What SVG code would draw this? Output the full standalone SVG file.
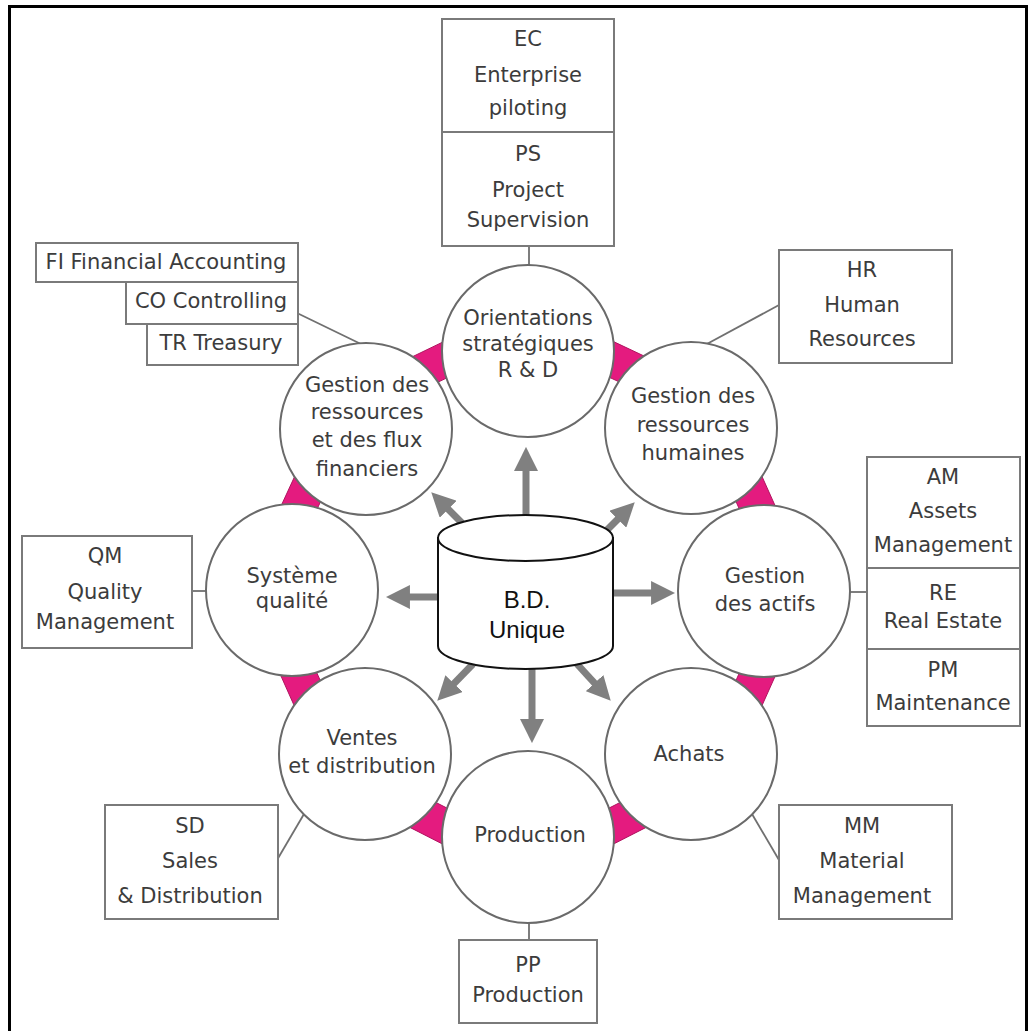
<svg xmlns="http://www.w3.org/2000/svg" width="1035" height="1031" viewBox="0 0 1035 1031">
  <style>
    .frame { fill: none; stroke: #000; stroke-width: 3; }
    .box { fill: #fff; stroke: #7a7a7a; stroke-width: 2; }
    .bub { fill: #fff; stroke: #6a6a6a; stroke-width: 2; }
    .lbl { font-family: "DejaVu Sans", "Liberation Sans", sans-serif; font-size: 21px; fill: #3c3c3c; text-anchor: middle; }
    .db { font-family: "Liberation Sans", Arial, sans-serif; font-size: 24px; fill: #111; text-anchor: middle; }
    .wedge { fill: #e41b7f; stroke: #b0145f; stroke-width: 1; }
    .link { stroke: #707070; stroke-width: 1.8; fill: none; }
    .arrow { stroke: #808080; stroke-width: 7; fill: none; marker-end: url(#head); }
    .cyl { fill: #fff; stroke: #111; stroke-width: 2; }
  </style>
  <defs>
    <marker id="head" markerUnits="userSpaceOnUse" markerWidth="24" markerHeight="24" viewBox="0 0 22 22" refX="10" refY="11" orient="auto">
      <path d="M0,0 L22,11 L0,22 Z" fill="#808080"/>
    </marker>
  </defs>

  <rect width="1035" height="1031" fill="#fff"/>
  <!-- outer frame (top, left, right) -->
  <path class="frame" d="M9.5,1035 L9.5,6.5 L1026.5,6.5 L1026.5,1035"/>

  <!-- magenta joints between neighbouring modules (circles drawn over them) -->
  <g id="joints">
    <polygon class="wedge" points="609.8,377.5 618.6,381.6 644.0,356.0 613.5,341.6"/>
    <polygon class="wedge" points="735.9,501.3 739.2,508.7 775.1,505.7 762.0,476.5"/>
    <polygon class="wedge" points="735.9,680.7 739.2,673.3 775.1,676.3 762.0,705.5"/>
    <polygon class="wedge" points="609.0,808.1 620.0,802.5 646.1,827.4 613.7,843.9"/>
    <polygon class="wedge" points="436.0,802.5 447.0,808.1 442.3,843.9 409.9,827.4"/>
    <polygon class="wedge" points="316.6,672.4 320.3,680.6 294.1,705.4 280.7,675.3"/>
    <polygon class="wedge" points="320.4,501.9 317.6,507.9 281.7,504.6 294.5,476.8"/>
    <polygon class="wedge" points="446.4,378.1 438.1,382.1 412.5,356.7 442.5,342.2"/>
  </g>

  <!-- connectors: database arrows and module-to-box links -->
  <g id="connectors">
    <line class="arrow" x1="526" y1="520" x2="526" y2="460"/>
    <line class="arrow" x1="532" y1="665" x2="532" y2="730"/>
    <line class="arrow" x1="442" y1="597" x2="399" y2="597"/>
    <line class="arrow" x1="609" y1="593" x2="662" y2="593"/>
    <line class="arrow" x1="462" y1="523" x2="440.5" y2="501.5"/>
    <line class="arrow" x1="606" y1="531" x2="625.5" y2="511.5"/>
    <line class="arrow" x1="473" y1="664" x2="446.4" y2="691.4"/>
    <line class="arrow" x1="577" y1="664" x2="601.9" y2="691.1"/>

    <line class="link" x1="529" y1="246" x2="529" y2="268"/>
    <line class="link" x1="297" y1="313" x2="363" y2="345"/>
    <line class="link" x1="779" y1="305" x2="705" y2="345"/>
    <line class="link" x1="849" y1="592" x2="867" y2="592"/>
    <line class="link" x1="752" y1="814" x2="779" y2="860"/>
    <line class="link" x1="529" y1="920" x2="529" y2="940"/>
    <line class="link" x1="304" y1="814" x2="277" y2="860"/>
    <line class="link" x1="192" y1="591" x2="208" y2="591"/>
  </g>

  <!-- business modules -->
  <g id="orientations">
    <circle class="bub" cx="528" cy="351" r="86"/>
    <text class="lbl" x="528" y="325">Orientations</text>
    <text class="lbl" x="528" y="351">stratégiques</text>
    <text class="lbl" x="528" y="377">R &amp; D</text>
  </g>
  <g id="rh">
    <circle class="bub" cx="691" cy="428" r="86"/>
    <text class="lbl" x="693" y="403">Gestion des</text>
    <text class="lbl" x="693" y="432">ressources</text>
    <text class="lbl" x="693" y="460">humaines</text>
  </g>
  <g id="actifs">
    <circle class="bub" cx="764" cy="591" r="86"/>
    <text class="lbl" x="765" y="583">Gestion</text>
    <text class="lbl" x="765" y="611">des actifs</text>
  </g>
  <g id="achats">
    <circle class="bub" cx="691" cy="754" r="86"/>
    <text class="lbl" x="689" y="761">Achats</text>
  </g>
  <g id="production">
    <circle class="bub" cx="528" cy="837" r="86"/>
    <text class="lbl" x="530" y="842">Production</text>
  </g>
  <g id="ventes">
    <circle class="bub" cx="365" cy="754" r="86"/>
    <text class="lbl" x="362" y="745">Ventes</text>
    <text class="lbl" x="362" y="773">et distribution</text>
  </g>
  <g id="qualite">
    <circle class="bub" cx="292" cy="590" r="86"/>
    <text class="lbl" x="292" y="583">Système</text>
    <text class="lbl" x="292" y="608">qualité</text>
  </g>
  <g id="finances">
    <circle class="bub" cx="366" cy="429" r="86"/>
    <text class="lbl" x="367" y="392">Gestion des</text>
    <text class="lbl" x="367" y="419">ressources</text>
    <text class="lbl" x="367" y="447">et des flux</text>
    <text class="lbl" x="367" y="476">financiers</text>
  </g>

  <!-- central database -->
  <g id="bd-unique">
    <path class="cyl" d="M438,538 L438,646 A87.5,23 0 0 0 613,646 L613,538 Z"/>
    <ellipse class="cyl" cx="525.5" cy="538" rx="87.5" ry="23"/>
    <text class="db" x="527" y="608">B.D.</text>
    <text class="db" x="527" y="638">Unique</text>
  </g>

  <!-- SAP module boxes -->
  <g id="ec-ps">
    <rect class="box" x="442" y="19" width="172" height="113"/>
    <rect class="box" x="442" y="132" width="172" height="114"/>
    <text class="lbl" x="528" y="46">EC</text>
    <text class="lbl" x="528" y="82">Enterprise</text>
    <text class="lbl" x="528" y="115">piloting</text>
    <text class="lbl" x="528" y="161">PS</text>
    <text class="lbl" x="528" y="197">Project</text>
    <text class="lbl" x="528" y="227">Supervision</text>
  </g>
  <g id="fi-co-tr">
    <rect class="box" x="36" y="243" width="262" height="39"/>
    <rect class="box" x="126" y="282" width="172" height="42"/>
    <rect class="box" x="147" y="324" width="151" height="41"/>
    <text class="lbl" x="166" y="269">FI Financial Accounting</text>
    <text class="lbl" x="211" y="308">CO Controlling</text>
    <text class="lbl" x="221" y="350">TR Treasury</text>
  </g>
  <g id="hr">
    <rect class="box" x="779" y="250" width="173" height="113"/>
    <text class="lbl" x="862" y="277">HR</text>
    <text class="lbl" x="862" y="312">Human</text>
    <text class="lbl" x="862" y="346">Resources</text>
  </g>
  <g id="am-re-pm">
    <rect class="box" x="867" y="457" width="153" height="111"/>
    <rect class="box" x="867" y="568" width="153" height="81"/>
    <rect class="box" x="867" y="649" width="153" height="77"/>
    <text class="lbl" x="943" y="484">AM</text>
    <text class="lbl" x="943" y="518">Assets</text>
    <text class="lbl" x="943" y="552">Management</text>
    <text class="lbl" x="943" y="600">RE</text>
    <text class="lbl" x="943" y="628">Real Estate</text>
    <text class="lbl" x="943" y="677">PM</text>
    <text class="lbl" x="943" y="710">Maintenance</text>
  </g>
  <g id="qm">
    <rect class="box" x="22" y="536" width="170" height="112"/>
    <text class="lbl" x="105" y="563">QM</text>
    <text class="lbl" x="105" y="599">Quality</text>
    <text class="lbl" x="105" y="629">Management</text>
  </g>
  <g id="sd">
    <rect class="box" x="105" y="805" width="173" height="114"/>
    <text class="lbl" x="190" y="833">SD</text>
    <text class="lbl" x="190" y="868">Sales</text>
    <text class="lbl" x="190" y="903">&amp; Distribution</text>
  </g>
  <g id="mm">
    <rect class="box" x="779" y="805" width="173" height="114"/>
    <text class="lbl" x="862" y="833">MM</text>
    <text class="lbl" x="862" y="868">Material</text>
    <text class="lbl" x="862" y="903">Management</text>
  </g>
  <g id="pp">
    <rect class="box" x="459" y="940" width="138" height="83"/>
    <text class="lbl" x="528" y="972">PP</text>
    <text class="lbl" x="528" y="1002">Production</text>
  </g>
</svg>
